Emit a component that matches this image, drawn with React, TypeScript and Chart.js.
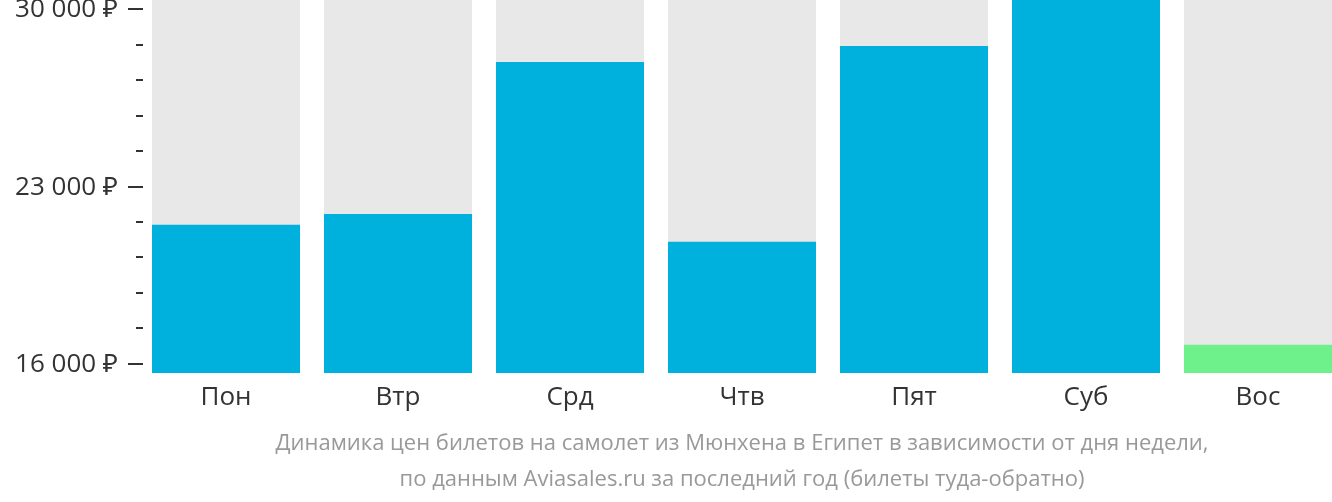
import React, { useEffect, useRef } from "react";
import { Chart, registerables } from "chart.js";

Chart.register(...registerables);

const categories = ["Пон", "Втр", "Срд", "Чтв", "Пят", "Суб", "Вос"];
const prices = [21490, 21920, 27910, 20820, 28540, 30500, 16760];
const barColors = ["#00b0dd", "#00b0dd", "#00b0dd", "#00b0dd", "#00b0dd", "#00b0dd", "#6ef08a"];
const tickValues = [16000, 17400, 18800, 20200, 21600, 23000, 24400, 25800, 27200, 28600, 30000];
const labelValues = [16000, 23000, 30000];
const tickLabels = ["16 000 ₽", "23 000 ₽", "30 000 ₽"];
const footerLines = [
  "Динамика цен билетов на самолет из Мюнхена в Египет в зависимости от дня недели,",
  "по данным Aviasales.ru за последний год (билеты туда-обратно)",
];
const yMin = 15645;
const yMax = 30355;

const FONT = "'Open Sans', 'Noto Sans', sans-serif";

export default function App() {
  const ref = useRef<HTMLCanvasElement | null>(null);

  useEffect(() => {
    if (!ref.current) return;
    const decor = {
      id: "decor",
      afterDraw(chart: any) {
        const ctx = chart.ctx;
        const y = chart.scales.y;
        const area = chart.chartArea;
        ctx.save();
        ctx.strokeStyle = "#333333";
        ctx.lineWidth = 2;
        tickValues.forEach((v) => {
          const py = Math.round(y.getPixelForValue(v));
          const major = labelValues.includes(v);
          ctx.beginPath();
          ctx.moveTo(major ? 128 : 136, py);
          ctx.lineTo(143, py);
          ctx.stroke();
        });
        ctx.fillStyle = "#333333";
        ctx.font = `26px ${FONT}`;
        ctx.textAlign = "right";
        ctx.textBaseline = "middle";
        labelValues.forEach((v, i) => {
          const py = y.getPixelForValue(v);
          ctx.fillText(tickLabels[i], 118, py + 1);
        });
        ctx.fillStyle = "#999999";
        ctx.font = `22px ${FONT}`;
        ctx.textAlign = "center";
        const cx = (area.left + area.right) / 2;
        footerLines.forEach((line, i) => {
          ctx.fillText(line, cx, 444 + i * 36);
        });
        ctx.restore();
      },
    };

    const chart = new Chart(ref.current, {
      type: "bar",
      data: {
        labels: categories,
        datasets: [
          {
            data: prices,
            backgroundColor: barColors,
            grouped: false,
            order: 1,
            categoryPercentage: 1,
            barPercentage: 148 / 172,
          } as any,
          {
            data: categories.map(() => yMax),
            backgroundColor: "#e8e8e8",
            grouped: false,
            order: 2,
            categoryPercentage: 1,
            barPercentage: 148 / 172,
          } as any,
        ],
      },
      options: {
        animation: false,
        responsive: false,
        devicePixelRatio: 1,
        layout: { padding: { left: 0, top: 0, right: 0, bottom: 89 } },
        plugins: {
          legend: { display: false },
          tooltip: { enabled: false },
          title: { display: false },
        },
        scales: {
          x: {
            type: "category",
            offset: true,
            grid: { display: false, drawTicks: false },
            border: { display: false },
            ticks: {
              color: "#333333",
              font: { family: FONT, size: 26 },
              padding: 9,
              maxRotation: 0,
              autoSkip: false,
            },
            afterFit: (s: any) => {
              s.height = 40;
            },
          },
          y: {
            type: "linear",
            min: yMin,
            max: yMax,
            grid: { display: false, drawTicks: false },
            border: { display: false },
            ticks: { display: false },
            afterFit: (s: any) => {
              s.width = 140;
            },
          },
        },
      },
      plugins: [decor],
    });
    return () => chart.destroy();
  }, []);

  return (
    <div
      style={{
        position: "fixed",
        left: 0,
        top: 0,
        width: 1332,
        height: 502,
        overflow: "hidden",
        background: "#ffffff",
      }}
    >
      <canvas ref={ref} width={1344} height={502} style={{ display: "block" }} />
    </div>
  );
}
